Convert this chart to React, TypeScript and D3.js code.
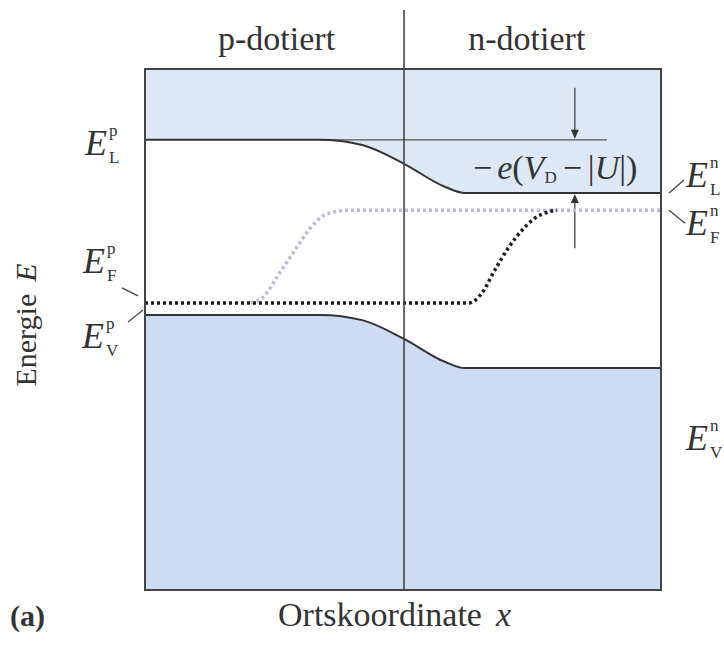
import React from "react";
import * as d3 from "d3";

// band profiles (x: 0..100 across the box, E: 0..100 bottom..top)
const bandX = [0, 33.9, 42.1, 50.2, 58.1, 62.0, 100];
const conductionE = [86.4, 86.4, 85.4, 81.8, 77.4, 76.2, 76.2];
const valenceE = [52.8, 52.8, 51.8, 48.2, 43.8, 42.6, 42.6];

// quasi Fermi levels
const holeFermiX = [0, 62.8, 65.3, 67.8, 70.5, 73.1, 75.6, 78.3, 79.8];
const holeFermiE = [55.1, 55.1, 57.0, 61.4, 65.8, 69.1, 71.4, 72.6, 72.9];
const electronFermiX = [20.5, 22.9, 25.6, 28.7, 32.0, 35.3, 39.7, 100];
const electronFermiE = [55.1, 56.2, 60.1, 64.7, 69.4, 72.2, 72.9, 72.9];

const junctionX = 50.2;
const refLineEnd = 89.5;
const arrowX = 83.3;
const arrowTop = 96.4;
const arrowBottom = 65.6;

const regionLabels = ["p-dotiert", "n-dotiert"];

const W = 724;
const H = 649;
const FONT = "'Liberation Serif', 'Times New Roman', serif";

const x = d3.scaleLinear().domain([0, 100]).range([145, 661]);
const y = d3.scaleLinear().domain([0, 100]).range([590, 69]);

type Pt = [number, number];
const zip = (xs: number[], es: number[]): Pt[] => xs.map((v, i) => [v, es[i]]);

const line = d3
  .line<Pt>()
  .x((d) => x(d[0]))
  .y((d) => y(d[1]))
  .curve(d3.curveMonotoneX);

const areaTop = d3
  .area<Pt>()
  .x((d) => x(d[0]))
  .y0(y(100))
  .y1((d) => y(d[1]))
  .curve(d3.curveMonotoneX);

const areaBottom = d3
  .area<Pt>()
  .x((d) => x(d[0]))
  .y0(y(0))
  .y1((d) => y(d[1]))
  .curve(d3.curveMonotoneX);

const Sym = ({ px, py, sup, sub }: { px: number; py: number; sup: string; sub: string }) => (
  <g fontFamily={FONT} fill="#333">
    <text x={px} y={py} fontSize={36} fontStyle="italic">
      E
    </text>
    <text x={px + 24} y={py - 19} fontSize={17}>
      {sup}
    </text>
    <text x={px + 24} y={py + 8} fontSize={17}>
      {sub}
    </text>
  </g>
);

const App = () => {
  const cb = zip(bandX, conductionE);
  const vb = zip(bandX, valenceE);
  const hf = zip(holeFermiX, holeFermiE);
  const ef = zip(electronFermiX, electronFermiE);

  const ax = x(arrowX);
  const yL = y(conductionE[0]);
  const yLn = y(conductionE[conductionE.length - 1]);
  const yFp = y(holeFermiE[0]);
  const yFn = y(electronFermiE[electronFermiE.length - 1]);
  const yVp = y(valenceE[0]);
  const x0 = x(0);
  const x1 = x(100);

  return (
    <svg width={W} height={H} style={{ position: "absolute", left: 0, top: 0, background: "#fff" }}>
      {/* band fills */}
      <path d={areaTop(cb) || ""} fill="#dde8f6" />
      <path d={areaBottom(vb) || ""} fill="#cddcf3" />

      {/* reference level and arrows */}
      <line x1={x(bandX[1])} x2={x(refLineEnd)} y1={yL} y2={yL} stroke="#555" strokeWidth={1.3} />
      <line x1={ax} x2={ax} y1={y(arrowTop)} y2={yL - 8} stroke="#444" strokeWidth={1.3} />
      <path d={`M${ax - 4},${yL - 10}L${ax + 4},${yL - 10}L${ax},${yL - 1}Z`} fill="#333" />
      <line x1={ax} x2={ax} y1={y(arrowBottom)} y2={yLn + 8} stroke="#444" strokeWidth={1.3} />
      <path d={`M${ax - 4},${yLn + 10}L${ax + 4},${yLn + 10}L${ax},${yLn + 1}Z`} fill="#333" />

      {/* Fermi levels */}
      <path d={line(ef) || ""} fill="none" stroke="#b9bdd3" strokeWidth={3.5} strokeDasharray="3 3" />
      <path d={line(hf) || ""} fill="none" stroke="#1e1e1e" strokeWidth={3.5} strokeDasharray="3 3" />

      {/* bands */}
      <path d={line(cb) || ""} fill="none" stroke="#333" strokeWidth={2} />
      <path d={line(vb) || ""} fill="none" stroke="#333" strokeWidth={2} />

      {/* frame and junction */}
      <rect x={x0} y={y(100)} width={x1 - x0} height={y(0) - y(100)} fill="none" stroke="#444" strokeWidth={2} />
      <line x1={x(junctionX)} x2={x(junctionX)} y1={10} y2={y(0)} stroke="#444" strokeWidth={1.6} />

      {/* region titles */}
      <g fontFamily={FONT} fontSize={34} fill="#333" textAnchor="middle">
        <text x={x(25.5)} y={50}>{regionLabels[0]}</text>
        <text x={x(74)} y={50}>{regionLabels[1]}</text>
      </g>

      {/* voltage label */}
      <text x={473} y={179} fontFamily={FONT} fontSize={34} fill="#333">
        <tspan>−</tspan>
        <tspan dx={5} fontStyle="italic">e</tspan>
        <tspan>(</tspan>
        <tspan fontStyle="italic">V</tspan>
        <tspan fontSize={17} dy={4}>D</tspan>
        <tspan dx={6} dy={-4}>−</tspan>
        <tspan dx={6}>|</tspan>
        <tspan fontStyle="italic">U</tspan>
        <tspan>|)</tspan>
      </text>

      {/* level labels */}
      <Sym px={85} py={155} sup="p" sub="L" />
      <Sym px={83} py={273} sup="p" sub="F" />
      <Sym px={82} py={348} sup="p" sub="V" />
      <Sym px={686} py={187} sup="n" sub="L" />
      <Sym px={686} py={235} sup="n" sub="F" />
      <Sym px={686} py={450} sup="n" sub="V" />

      {/* leader lines */}
      <g stroke="#444" strokeWidth={1.3}>
        <line x1={x0 - 23} y1={yFp - 15} x2={x0 - 7} y2={yFp - 7} />
        <line x1={x0 - 17} y1={yVp + 7} x2={x0 - 2} y2={yVp - 5} />
        <line x1={x1 + 8} y1={yLn} x2={x1 + 23} y2={yLn - 13} />
        <line x1={x1 + 8} y1={yFn} x2={x1 + 24} y2={yFn + 13} />
      </g>

      {/* axis titles */}
      <g fontFamily={FONT} fill="#333">
        <text transform="translate(36,325) rotate(-90)" fontSize={30} textAnchor="middle">
          Energie<tspan dx={12} fontStyle="italic">E</tspan>
        </text>
        <text x={278} y={626} fontSize={34}>
          Ortskoordinate<tspan dx={14} fontStyle="italic">x</tspan>
        </text>
        <text x={10} y={626} fontSize={30} fontWeight="bold">
          (a)
        </text>
      </g>
    </svg>
  );
};

export default App;
